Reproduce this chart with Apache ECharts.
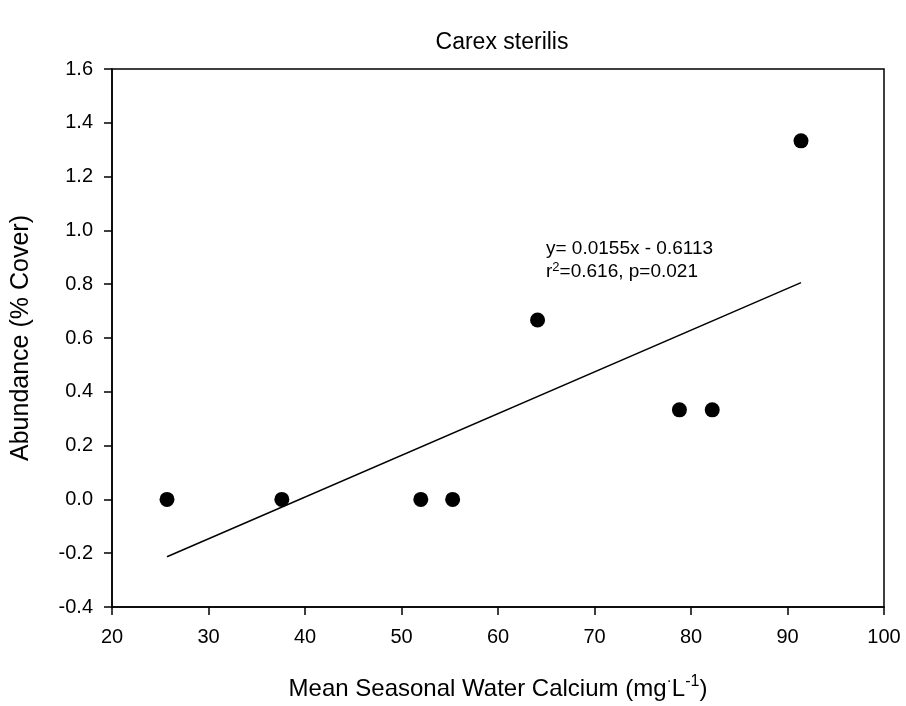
<!DOCTYPE html>
<html><head><meta charset="utf-8">
<script src="https://cdn.jsdelivr.net/npm/echarts@6/dist/echarts.min.js"></script>
<style>html,body{margin:0;padding:0;background:#fff}#c{width:906px;height:706px}</style>
</head><body><div id="c"></div>
<script>
const calcium = [25.7, 37.6, 52.0, 55.3, 64.1, 78.8, 82.2, 91.4];
const abundance = [0, 0, 0, 0, 0.667, 0.333, 0.333, 1.333];
const fitX = [25.7, 91.4];
const fitY = [-0.213, 0.806];
const xTicks = [20, 30, 40, 50, 60, 70, 80, 90, 100];
const yTicks = [-0.4, -0.2, 0.0, 0.2, 0.4, 0.6, 0.8, 1.0, 1.2, 1.4, 1.6];

const FONT = 'Liberation Sans, Arial, sans-serif';
const chart = echarts.init(document.getElementById('c'));
chart.setOption({
  animation: false,
  backgroundColor: '#fff',
  title: {
    text: 'Carex sterilis', left: 497, top: 26, textAlign: 'center',
    textStyle: {fontFamily: FONT, fontSize: 23, fontWeight: 'normal', color: '#000'}
  },
  grid: {left: 112, right: 22, top: 69, bottom: 97, show: true, borderColor: '#000', borderWidth: 1.5, backgroundColor: 'transparent'},
  xAxis: {
    type: 'value', min: xTicks[0], max: xTicks[xTicks.length - 1], interval: 10,
    splitLine: {show: false},
    axisLine: {show: true, onZero: false, lineStyle: {color: '#000', width: 1.5}},
    axisTick: {show: true, inside: false, length: 8, lineStyle: {color: '#000', width: 1.5}},
    axisLabel: {fontFamily: FONT, fontSize: 20, color: '#000', margin: 20},
    name: '{n|Mean Seasonal Water Calcium (mg}{d|·}{n|L}{s|-1}{n|)}',
    nameLocation: 'middle', nameGap: 67,
    nameTextStyle: {
      rich: {
        n: {fontFamily: FONT, fontSize: 24, color: '#000'},
        d: {fontFamily: FONT, fontSize: 16, color: '#000', verticalAlign: 'top', padding: [0, 0, 14, 0]},
        s: {fontFamily: FONT, fontSize: 16, color: '#000', verticalAlign: 'top', padding: [0, 0, 14, 0]}
      }
    }
  },
  yAxis: {
    type: 'value', min: yTicks[0], max: yTicks[yTicks.length - 1], interval: 0.2,
    splitLine: {show: false},
    axisLine: {show: true, onZero: false, lineStyle: {color: '#000', width: 1.5}},
    axisTick: {show: true, inside: false, length: 8, lineStyle: {color: '#000', width: 1.5}},
    axisLabel: {fontFamily: FONT, fontSize: 20, color: '#000', margin: 19, formatter: v => v.toFixed(1)},
    name: 'Abundance (% Cover)', nameLocation: 'middle', nameGap: 78,
    nameTextStyle: {fontFamily: FONT, fontSize: 25, color: '#000'}
  },
  series: [
    {
      type: 'line', data: fitX.map((x, i) => [x, fitY[i]]), symbol: 'none',
      lineStyle: {color: '#000', width: 1.5}, silent: true, z: 2
    },
    {
      type: 'scatter', data: calcium.map((x, i) => [x, abundance[i]]),
      symbol: 'circle', symbolSize: 15, itemStyle: {color: '#000', opacity: 1}, z: 3
    }
  ],
  graphic: [
    {type: 'text', left: 546, top: 239, style: {text: 'y= 0.0155x - 0.6113', fontFamily: FONT, fontSize: 19, fill: '#000'}},
    {type: 'text', left: 546, top: 261, style: {
      text: '{a|r}{s|2}{a|=0.616, p=0.021}',
      rich: {
        a: {fontFamily: FONT, fontSize: 19, color: '#000'},
        s: {fontFamily: FONT, fontSize: 13, color: '#000', verticalAlign: 'top', padding: [0, 0, 9, 0]}
      }
    }}
  ]
});
</script></body></html>
